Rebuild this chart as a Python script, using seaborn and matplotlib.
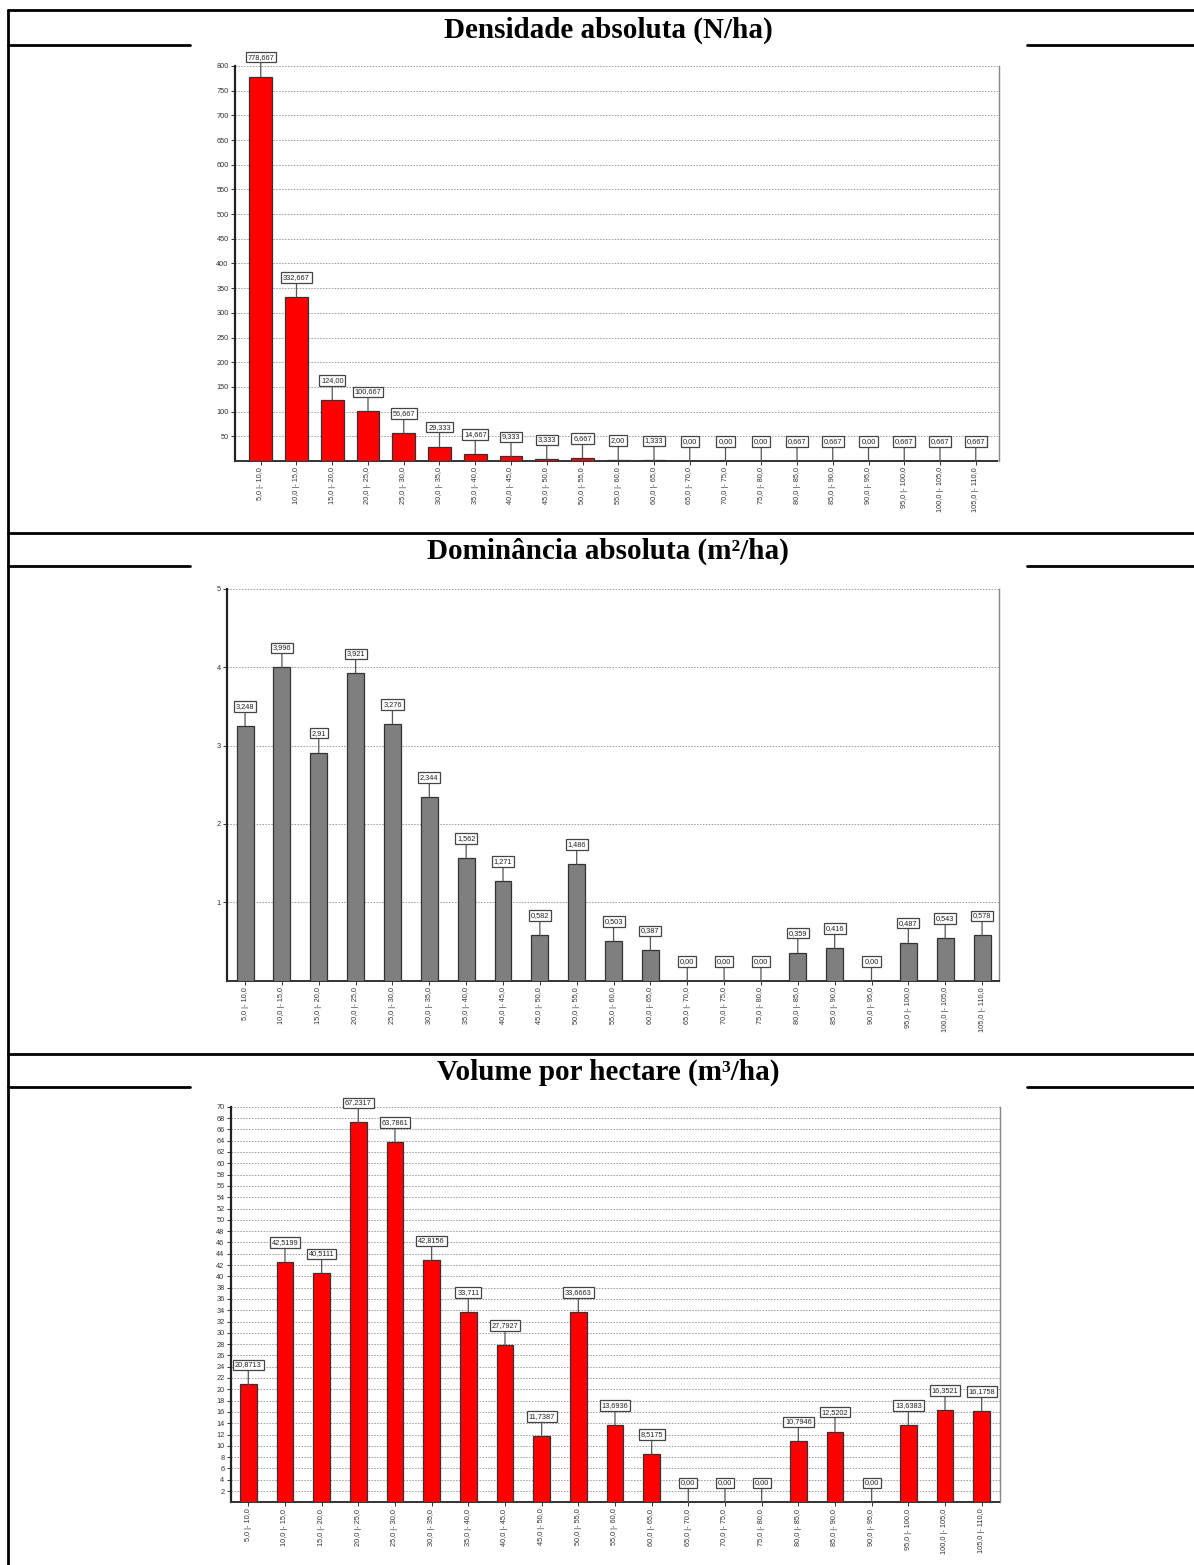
import matplotlib
matplotlib.use("Agg")
import matplotlib.pyplot as plt
import seaborn as sns

# Diameter classes (cm)
classes = [
    "5,0 |- 10,0", "10,0 |- 15,0", "15,0 |- 20,0", "20,0 |- 25,0", "25,0 |- 30,0",
    "30,0 |- 35,0", "35,0 |- 40,0", "40,0 |- 45,0", "45,0 |- 50,0", "50,0 |- 55,0",
    "55,0 |- 60,0", "60,0 |- 65,0", "65,0 |- 70,0", "70,0 |- 75,0", "75,0 |- 80,0",
    "80,0 |- 85,0", "85,0 |- 90,0", "90,0 |- 95,0", "95,0 |- 100,0", "100,0 |- 105,0",
    "105,0 |- 110,0",
]

# Values per class, written as printed in the bar labels
densidade = ["778,667", "332,667", "124,00", "100,667", "56,667", "29,333", "14,667",
             "9,333", "3,333", "6,667", "2,00", "1,333", "0,00", "0,00", "0,00",
             "0,667", "0,667", "0,00", "0,667", "0,667", "0,667"]
dominancia = ["3,248", "3,996", "2,91", "3,921", "3,276", "2,344", "1,562", "1,271",
              "0,582", "1,486", "0,503", "0,387", "0,00", "0,00", "0,00", "0,359",
              "0,416", "0,00", "0,487", "0,543", "0,578"]
volume = ["20,8713", "42,5199", "40,5111", "67,2317", "63,7861", "42,8156", "33,711",
          "27,7927", "11,7387", "33,6663", "13,6936", "8,5175", "0,00", "0,00", "0,00",
          "10,7946", "12,5202", "0,00", "13,6383", "16,3521", "16,1758"]

titles = ["Densidade absoluta (N/ha)", "Dominância absoluta (m²/ha)", "Volume por hectare (m³/ha)"]
y_ticks = [list(range(50, 801, 50)), [1, 2, 3, 4, 5], list(range(2, 71, 2))]


def to_float(s):
    return float(s.replace(",", "."))


W, H = 1194, 1565
sns.set_theme(style="white")
plt.rcParams["font.family"] = ["Liberation Sans", "DejaVu Sans"]

fig = plt.figure(figsize=(W / 100, H / 100), dpi=100)

# Table frame lines in pixel coordinates
bg = fig.add_axes([0, 0, 1, 1], zorder=0)
bg.set_xlim(0, W)
bg.set_ylim(H, 0)
bg.axis("off")
bg.plot([8, 8], [10, H], color="black", lw=2)
for y_full, y_part in [(10, 45), (533, 566), (1054, 1087)]:
    bg.plot([8, W], [y_full, y_full], color="black", lw=2)
    bg.plot([8, 190], [y_part, y_part], color="black", lw=2)
    bg.plot([1027, W], [y_part, y_part], color="black", lw=2)

title_y = [30, 551, 1072]
for t, ty in zip(titles, title_y):
    fig.text(608 / W, 1 - ty / H, t, ha="center", va="center", color="black",
             fontsize=21, fontweight="bold", family="Liberation Serif")

# Panel geometry: left, right, top, bottom (px), x-limits, bar width, colour
panels = [
    (densidade, 235, 999, 66, 461, (-0.72, 20.65), 0.64, "#ff0000", (0, 800)),
    (dominancia, 227, 999, 588.7, 980.7, (-0.49, 20.46), 0.46, "#7f7f7f", (0, 5)),
    (volume, 230.7, 1000, 1106.8, 1502.3, (-0.48, 20.5), 0.455, "#ff0000", (0, 70)),
]

for (labels, xl, xr, yt, yb, xlim, bw, color, ylim), yt_list in zip(panels, y_ticks):
    vals = [to_float(s) for s in labels]
    ax = fig.add_axes([xl / W, 1 - yb / H, (xr - xl) / W, (yb - yt) / H], zorder=2)
    sns.barplot(x=classes, y=vals, order=classes, color=color, saturation=1,
                width=bw, edgecolor="#333333", linewidth=0.9, ax=ax, zorder=3)
    ax.set_xlim(*xlim)
    ax.set_ylim(*ylim)
    ax.set_yticks(yt_list)
    ax.set_yticklabels([str(v) for v in yt_list])
    ax.set_xticks(range(len(classes)))
    ax.set_xticklabels(classes, rotation=90)
    ax.set_xlabel("")
    ax.set_ylabel("")
    ax.set_facecolor("white")
    ax.yaxis.grid(True, linestyle=(0, (1.5, 1.5)), color="#9a9a9a", lw=0.7)
    ax.xaxis.grid(False)
    ax.set_axisbelow(True)
    ax.tick_params(axis="both", labelsize=5.3, colors="#333333", length=3, width=0.7,
                   pad=1.5, left=True, bottom=True)
    ax.spines["top"].set_visible(False)
    ax.spines["left"].set_color("#222222")
    ax.spines["left"].set_linewidth(1.6)
    ax.spines["right"].set_color("#888888")
    ax.spines["right"].set_linewidth(1.0)
    ax.spines["bottom"].set_color("#333333")
    ax.spines["bottom"].set_linewidth(1.4)
    ax.spines["bottom"].set_linestyle((0, (2, 1)))

    for i, (v, s) in enumerate(zip(vals, labels)):
        ax.annotate(s, xy=(i, v), xytext=(0, 14), textcoords="offset points",
                    ha="center", va="center", fontsize=5.3, color="#222222",
                    bbox=dict(boxstyle="square,pad=0.25", fc="white", ec="#444444", lw=0.9),
                    arrowprops=dict(arrowstyle="-", color="#555555", lw=0.9,
                                    shrinkA=0, shrinkB=0),
                    zorder=5, annotation_clip=False)

fig.savefig("out.png", dpi=100, facecolor="white")
